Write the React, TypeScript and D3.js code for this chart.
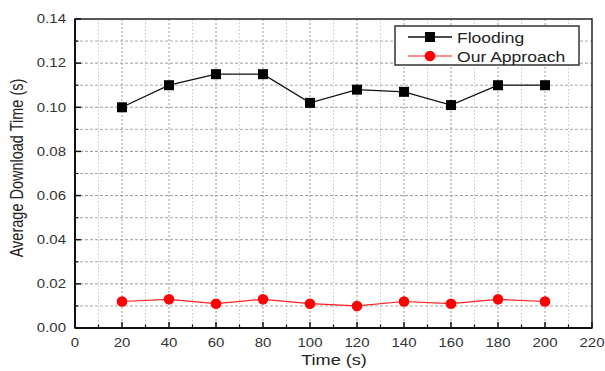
import React from "react";
import * as d3 from "d3";

const times = [20, 40, 60, 80, 100, 120, 140, 160, 180, 200];
const flooding = [0.1, 0.11, 0.115, 0.115, 0.102, 0.108, 0.107, 0.101, 0.11, 0.11];
const ourApproach = [0.012, 0.013, 0.011, 0.013, 0.011, 0.01, 0.012, 0.011, 0.013, 0.012];
const xTicks = [0, 20, 40, 60, 80, 100, 120, 140, 160, 180, 200, 220];
const yTicks = [0, 0.02, 0.04, 0.06, 0.08, 0.1, 0.12, 0.14];
const xMinor = d3.range(10, 220, 20);
const yMinor = [0.01, 0.03, 0.05, 0.07, 0.09, 0.11, 0.13];
const seriesNames = ["Flooding", "Our Approach"];

const W = 605, H = 371;
const L = 75, R = 592, T = 19, B = 328;
const SX = 1.25;
const FONT = "'Liberation Sans', Arial, sans-serif";

export default function App() {
  const x = d3.scaleLinear().domain([0, 220]).range([L, R]);
  const y = d3.scaleLinear().domain([0, 0.14]).range([B, T]);
  const line = d3.line<[number, number]>().x(d => x(d[0])).y(d => y(d[1]));
  const fData = times.map((t, i) => [t, flooding[i]] as [number, number]);
  const oData = times.map((t, i) => [t, ourApproach[i]] as [number, number]);

  return (
    <svg width={W} height={H} style={{ position: "absolute", left: 0, top: 0, background: "#fff" }} fontFamily={FONT}>
      <rect x={0} y={0} width={W} height={H} fill="#fff" />
      {/* grid */}
      {xMinor.map(v => (
        <line key={"xm" + v} x1={x(v)} x2={x(v)} y1={T} y2={B} stroke="#c8c8c8" strokeWidth={1} strokeDasharray="1.5,2" />
      ))}
      {xTicks.slice(1, -1).map(v => (
        <line key={"xM" + v} x1={x(v)} x2={x(v)} y1={T} y2={B} stroke="#9a9a9a" strokeWidth={1} strokeDasharray="2,2" />
      ))}
      {yMinor.map(v => (
        <line key={"ym" + v} x1={L} x2={R} y1={y(v)} y2={y(v)} stroke="#aaaaaa" strokeWidth={1} strokeDasharray="3,2" />
      ))}
      {yTicks.slice(1, -1).map(v => (
        <line key={"yM" + v} x1={L} x2={R} y1={y(v)} y2={y(v)} stroke="#999999" strokeWidth={1} strokeDasharray="3,2" />
      ))}
      {/* frame */}
      <rect x={L} y={T} width={R - L} height={B - T} fill="none" stroke="#222" strokeWidth={1.5} />
      <line x1={L} x2={R} y1={B} y2={B} stroke="#111" strokeWidth={2} />
      <line x1={L} x2={L} y1={T} y2={B} stroke="#111" strokeWidth={2} />
      {/* ticks */}
      {xTicks.map(v => (
        <line key={"xt" + v} x1={x(v)} x2={x(v)} y1={B} y2={B - 6} stroke="#111" strokeWidth={1.5} />
      ))}
      {xMinor.map(v => (
        <line key={"xtm" + v} x1={x(v)} x2={x(v)} y1={B} y2={B - 3.5} stroke="#111" strokeWidth={1.2} />
      ))}
      {yTicks.map(v => (
        <line key={"yt" + v} x1={L} x2={L + 6} y1={y(v)} y2={y(v)} stroke="#111" strokeWidth={1.5} />
      ))}
      {yMinor.map(v => (
        <line key={"ytm" + v} x1={L} x2={L + 3.5} y1={y(v)} y2={y(v)} stroke="#111" strokeWidth={1.2} />
      ))}
      {/* tick labels */}
      {xTicks.map(v => (
        <text key={"xl" + v} transform={`translate(${x(v)},${347}) scale(${SX},1)`} textAnchor="middle" fontSize={12} fill="#333">
          {v}
        </text>
      ))}
      {yTicks.map(v => (
        <text key={"yl" + v} transform={`translate(${66},${y(v) + 4.3}) scale(${SX},1)`} textAnchor="end" fontSize={12} fill="#333">
          {v.toFixed(2)}
        </text>
      ))}
      {/* axis titles */}
      <text transform={`translate(${334},${365}) scale(${SX},1)`} textAnchor="middle" fontSize={14.5} fill="#222">
        Time (s)
      </text>
      <text transform={`translate(${23},${168}) scale(${SX},1) rotate(-90)`} textAnchor="middle" fontSize={14.5} fill="#222">
        Average Download Time (s)
      </text>
      {/* series */}
      <path d={line(fData) || ""} fill="none" stroke="#111" strokeWidth={1.3} />
      {fData.map((d, i) => (
        <rect key={"fs" + i} x={x(d[0]) - 5} y={y(d[1]) - 5} width={10} height={10} fill="#000" />
      ))}
      <path d={line(oData) || ""} fill="none" stroke="#ff2020" strokeWidth={1.2} />
      {oData.map((d, i) => (
        <circle key={"oc" + i} cx={x(d[0])} cy={y(d[1])} r={5.3} fill="#ff0000" />
      ))}
      {/* legend */}
      <rect x={395} y={26} width={184} height={39} fill="#fff" stroke="#333" strokeWidth={1.5} />
      <line x1={408} x2={452} y1={37} y2={37} stroke="#111" strokeWidth={1.3} />
      <rect x={425} y={32} width={10} height={10} fill="#000" />
      <text transform={`translate(457,43) scale(1.17,1)`} fontSize={15} fill="#222">{seriesNames[0]}</text>
      <line x1={408} x2={452} y1={56} y2={56} stroke="#ff2020" strokeWidth={1.2} />
      <circle cx={430} cy={56} r={5.3} fill="#ff0000" />
      <text transform={`translate(457,62) scale(1.17,1)`} fontSize={15} fill="#222">{seriesNames[1]}</text>
    </svg>
  );
}
